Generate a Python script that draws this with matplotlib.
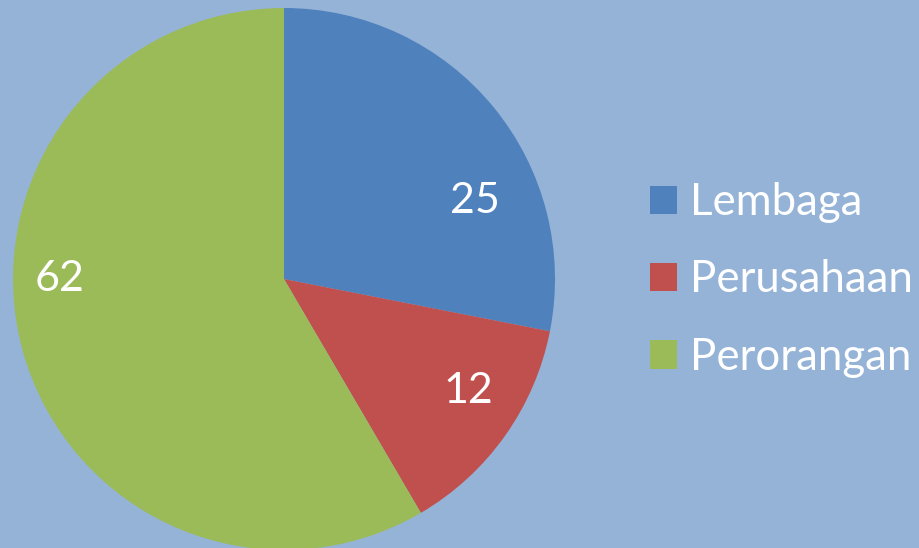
import matplotlib
matplotlib.use('Agg')
import matplotlib.pyplot as plt

# Data
categories = ['Lembaga', 'Perusahaan', 'Perorangan']
values = [25, 12, 52]          # slice sizes as drawn in the picture
value_labels = ['25', '12', '62']  # labels as printed on the slices
colors = ['#4F81BD', '#C0504D', '#9BBB59']

BG = '#95B3D7'
plt.rcParams['font.family'] = ['Lato', 'DejaVu Sans']

fig = plt.figure(figsize=(9.2, 5.48), dpi=100)
fig.patch.set_facecolor(BG)

# axes so the unit pie is centred at (284, 279) px with radius 271 px
ax = fig.add_axes([13 / 920, -2 / 548, 542 / 920, 542 / 548])
ax.set_facecolor(BG)
wedges, _ = ax.pie(values, colors=colors, startangle=90, counterclock=False,
                   radius=1.0, wedgeprops=dict(linewidth=0))
ax.set_xlim(-1, 1)
ax.set_ylim(-1, 1)
ax.set_aspect('equal')
ax.axis('off')

# label spots inside each slice (pie units)
label_pos = [(0.706, 0.287), (0.68, -0.415), (-0.827, 0.0)]
for txt, (x, y) in zip(value_labels, label_pos):
    ax.text(x, y, txt, ha='center', va='center', color='white', fontsize=31)

leg = fig.legend(wedges, categories, loc='center left',
                 bbox_to_anchor=(650 / 920, 1 - 280 / 548),
                 frameon=False, fontsize=31.5, labelcolor='white',
                 handlelength=0.62, handleheight=0.62, handletextpad=0.3,
                 labelspacing=0.83, borderaxespad=0, borderpad=0)

fig.savefig('out.png', dpi=100, facecolor=BG)
